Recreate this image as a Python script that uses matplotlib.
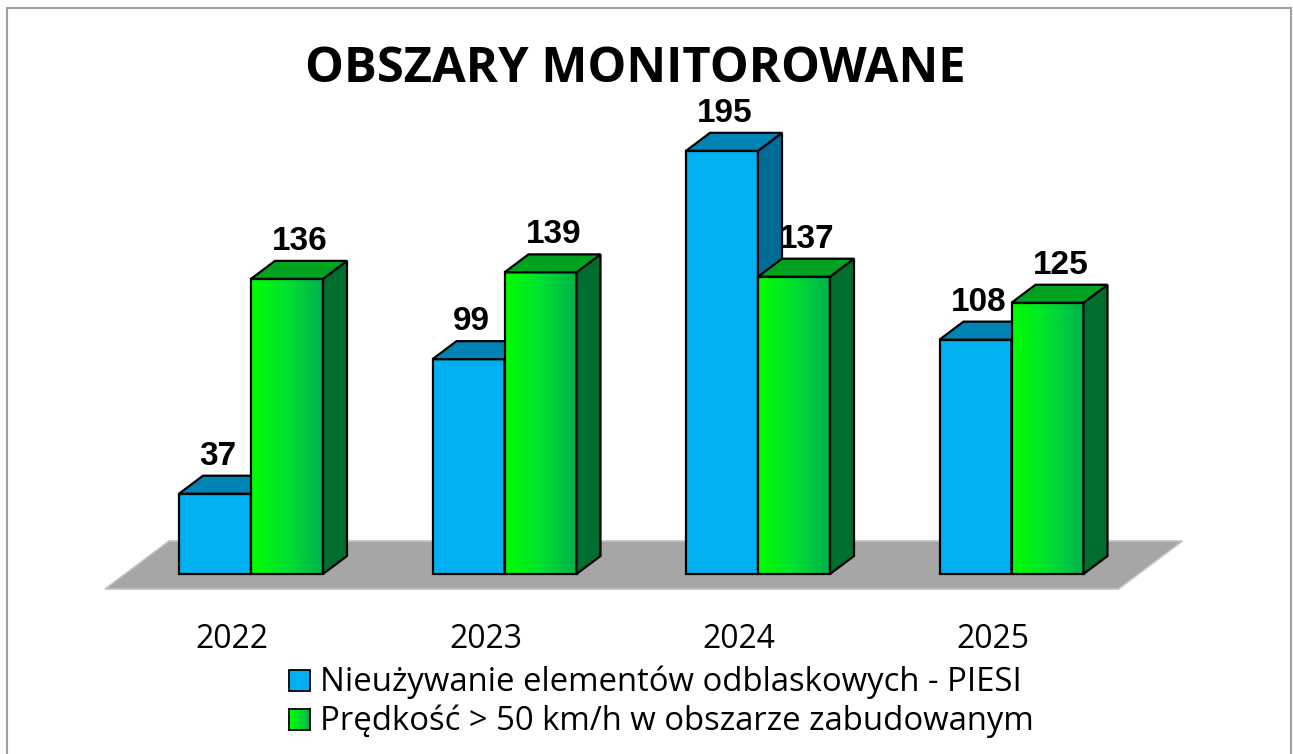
import numpy as np
import matplotlib
matplotlib.use("Agg")
import matplotlib.pyplot as plt
from matplotlib.patches import Polygon, Rectangle
from matplotlib.colors import LinearSegmentedColormap

# ---------------- data ----------------
title = "OBSZARY MONITOROWANE"
years = ["2022", "2023", "2024", "2025"]
piesi = [37, 99, 195, 108]
predkosc = [136, 139, 137, 125]
series_names = ["Nieużywanie elementów odblaskowych - PIESI",
                "Prędkość > 50 km/h w obszarze zabudowanym"]

# ---------------- layout (pixels) ----------------
W, H = 1293, 754
DPI = 100
fig = plt.figure(figsize=(W / DPI, H / DPI), dpi=DPI)
fig.patch.set_facecolor("white")

AX_L, AX_R, AX_T, AX_B = 100, 1190, 20, 600
CAT0_PX, CAT_STEP_PX = 251, 253.5
ZERO_PX, PX_PER_UNIT = 574, 2.17
DEPTH_PX = (24, 18)
FLOOR_DEPTH_PX = (64, 48)

ax = fig.add_axes([AX_L / W, 1 - AX_B / H, (AX_R - AX_L) / W, (AX_B - AX_T) / H])
xlim = ((AX_L - CAT0_PX) / CAT_STEP_PX, (AX_R - CAT0_PX) / CAT_STEP_PX)
ylim = (-(AX_B - ZERO_PX) / PX_PER_UNIT, (ZERO_PX - AX_T) / PX_PER_UNIT)
ax.axis("off")

def px2d(dx, dy):
    return dx / CAT_STEP_PX, dy / PX_PER_UNIT

ddx, ddy = px2d(*DEPTH_PX)
fdx, fdy = px2d(*FLOOR_DEPTH_PX)

x = np.arange(len(years))
bw = 72 / CAT_STEP_PX

renderer = fig.canvas.get_renderer()

def fitted_size(text, target_w, **kw):
    tmp = fig.text(0.5, 0.5, text, size=20, **kw)
    w = tmp.get_window_extent(renderer).width
    tmp.remove()
    return 20 * target_w / w

# ---------------- floor ----------------
f_y = -(589 - ZERO_PX) / PX_PER_UNIT
f_x0 = (105 - CAT0_PX) / CAT_STEP_PX
f_x1 = x[-1] + (1118 - 1011) / CAT_STEP_PX
floor = Polygon([(f_x0, f_y), (f_x1, f_y), (f_x1 + fdx, f_y + fdy), (f_x0 + fdx, f_y + fdy)],
                closed=True, facecolor="#A6A6A6", edgecolor="#C4C4C4", lw=1.2, zorder=1)
ax.add_patch(floor)

# ---------------- bars ----------------
EDGE = dict(edgecolor="black", linewidth=1.6, joinstyle="miter")
blue_front, blue_top, blue_side = "#00B0F0", "#0084B6", "#006D96"
green_top, green_side = "#00A320", "#006E2E"
green_cmap = LinearSegmentedColormap.from_list("g", ["#00FF00", "#00E030", "#00B04E"])
grad = np.linspace(0, 1, 256).reshape(1, -1)

def faces(xl, xr, h, ctop, cside, z):
    top = Polygon([(xl, h), (xr, h), (xr + ddx, h + ddy), (xl + ddx, h + ddy)],
                  closed=True, facecolor=ctop, zorder=z, **EDGE)
    side = Polygon([(xr, 0), (xr, h), (xr + ddx, h + ddy), (xr + ddx, ddy)],
                   closed=True, facecolor=cside, zorder=z, **EDGE)
    ax.add_patch(side)
    ax.add_patch(top)

for i in range(len(years)):
    zb = 2 + i * 0.01
    ax.bar(x[i] - bw / 2, piesi[i], width=bw, color=blue_front, zorder=zb, **EDGE)
    faces(x[i] - bw, x[i], piesi[i], blue_top, blue_side, zb)
    zg = 3 + i * 0.01
    ax.imshow(grad, extent=[x[i], x[i] + bw, 0, predkosc[i]], aspect="auto",
              cmap=green_cmap, origin="lower", zorder=zg, interpolation="bilinear")
    ax.bar(x[i] + bw / 2, predkosc[i], width=bw, facecolor="none", zorder=zg + 0.001, **EDGE)
    faces(x[i], x[i] + bw, predkosc[i], green_top, green_side, zg + 0.002)

ax.set_xlim(*xlim)
ax.set_ylim(*ylim)

# ---------------- value labels ----------------
lab_font = dict(family="Liberation Sans", weight="bold", size=24, color="black")
for vals, off in ((piesi, -bw / 2), (predkosc, bw / 2)):
    shift = 3 if off < 0 else 13
    for i, v in enumerate(vals):
        ax.annotate(str(v), xy=(x[i] + off, v), xytext=(shift, DEPTH_PX[1] + 11),
                    textcoords="offset pixels", ha="center", va="baseline", **lab_font)

# ---------------- category labels ----------------
yr_size = fitted_size(years[0], 73, family="Open Sans")
for i, yr in enumerate(years):
    ax.annotate(yr, xy=(x[i], 0), xytext=(-19, -(648 - ZERO_PX)), textcoords="offset pixels",
                ha="center", va="baseline", family="Open Sans", size=yr_size, color="black")

# ---------------- title ----------------
title_size = fitted_size(title, 660, family="Open Sans", weight="bold")
fig.text(635 / W, 1 - 82 / H, title, ha="center", va="baseline",
         family="Open Sans", weight="bold", size=title_size)

# ---------------- legend ----------------
leg_size = 0.5 * (fitted_size(series_names[0], 707, family="Open Sans")
                  + fitted_size(series_names[1], 705, family="Open Sans"))
leg_rows = [(680, blue_front), (719, None)]
for (cy, col), name in zip(leg_rows, series_names):
    sq = 21
    if col is not None:
        fig.patches.append(Rectangle((289 / W, 1 - (cy + sq / 2) / H), sq / W, sq / H,
                                     transform=fig.transFigure, facecolor=col,
                                     edgecolor="black", lw=1.3))
    else:
        gax = fig.add_axes([289 / W, 1 - (cy + sq / 2) / H, sq / W, sq / H])
        gax.imshow(grad, cmap=green_cmap, aspect="auto")
        gax.set_xticks([]); gax.set_yticks([])
        for s in gax.spines.values():
            s.set_linewidth(1.3)
    fig.text(320 / W, 1 - (cy + 11) / H, name, ha="left", va="baseline",
             family="Open Sans", size=leg_size, color="black")

# ---------------- frame ----------------
fig.patches.append(Rectangle((7 / W, -0.05), (1291 - 7) / W, 1 - 8 / H + 0.05,
                             transform=fig.transFigure, facecolor="none",
                             edgecolor="#A0A0A0", lw=1.5))

fig.savefig("out.png", dpi=DPI)
